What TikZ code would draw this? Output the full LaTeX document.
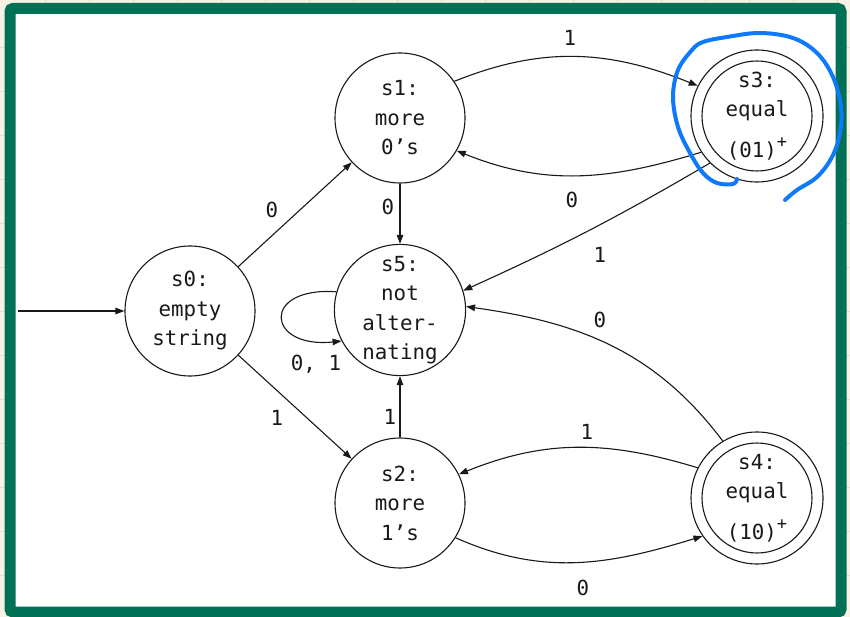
\documentclass[tikz,border=0pt]{standalone}
\usepackage{fontspec}
\setmainfont{DejaVu Sans Mono}
\usetikzlibrary{arrows.meta}
\definecolor{frame}{RGB}{0,113,84}
\definecolor{pen}{RGB}{14,122,250}
\definecolor{paper}{RGB}{246,243,230}
\definecolor{gridc}{RGB}{226,222,203}
\definecolor{ink}{RGB}{25,25,25}
\newcommand{\plussup}{\raisebox{10pt}{\fontsize{17}{17}\selectfont +}}
\begin{document}
\begin{tikzpicture}[x=1pt,y=1pt,
  state/.style={circle,draw=ink,line width=1.1pt,minimum size=130pt,inner sep=0pt,align=center,text=ink,font=\fontsize{20.8}{29.5}\selectfont},
  accept/.style={state,minimum size=132pt},
  lbl/.style={font=\fontsize{20.8}{24}\selectfont,inner sep=0pt,text=ink},
  edge/.style={draw=ink,line width=1.1pt,-{Triangle[length=9pt,width=6.5pt]}},
  inner ring/.style={draw=ink,line width=1.1pt},
  marker/.style={draw=pen,line width=4pt,line cap=round,line join=round}
]
\useasboundingbox (0,0) rectangle (850,-617);
\fill[paper] (0,0) rectangle (850,-617);
\foreach \i in {1,...,19} \draw[gridc,line width=0.8pt] ({1+44*\i},0) -- ({1+44*\i},-617);
\foreach \j in {1,...,13} \draw[gridc,line width=0.8pt] (0,{-3-44*\j}) -- (850,{-3-44*\j});
\draw[frame,line width=11pt,fill=white,rounded corners=3pt] (10,-8.5) rectangle (841,-612);

% states
\node[state] (s0) at (190,-311) {s0:\\empty\\string};
\node[state] (s1) at (400,-118) {s1:\\more\\0’s};
\node[state] (s5) at (400,-310) {s5:\\not\\alter-\\nating};
\node[state] (s2) at (400,-503) {s2:\\more\\1’s};
\node[accept] (s3) at (757,-116) {s3:\\equal\\[11pt](01)\plussup};
\node[accept] (s4) at (757,-498) {s4:\\equal\\[11pt](10)\plussup};
\draw[inner ring] (s3.center) circle (55);
\draw[inner ring] (s4.center) circle (55);

% connectors
\coordinate (init) at (18,-311);
\draw[edge] (init) -- (s0);
\draw[edge] (s0) -- (s1);
\draw[edge] (s0) -- (s2);
\draw[edge] (s1) -- (s5);
\draw[edge] (s2) -- (s5);
\draw[edge] (s1.34) to[out=22,in=158] (s3.153);
\draw[edge] (s3.213) to[out=197,in=-22] (s1.-30);
\draw[edge] (s3.225) to[bend left=3] (s5.17);
\draw[edge] (s4.121) to[out=127,in=-8] (s5.3);
\draw[edge] (s4.153) to[out=163,in=22] (s2.26);
\draw[edge] (s2.-32) to[out=-24,in=197] (s4.215);
\draw[edge] (s5.164) .. controls +(176:76) and +(186:76) .. (s5.208);

% labels
\node[lbl] (l01) at (272,-210) {0};
\node[lbl] (l02) at (277,-418) {1};
\node[lbl] (l15) at (388,-207) {0};
\node[lbl] (l25) at (390,-417) {1};
\node[lbl] (l13) at (570,-38) {1};
\node[lbl] (l31) at (572,-200) {0};
\node[lbl] (l35) at (600,-255) {1};
\node[lbl] (l45) at (600,-320) {0};
\node[lbl] (l42) at (587,-432) {1};
\node[lbl] (l24) at (583,-588) {0};
\node[lbl] (l55) at (316,-364) {0, 1};

% hand-drawn marker around s3
\draw[marker] plot[smooth,tension=0.6] coordinates {(737,-179) (733,-184) (717,-183) (703,-173) (690,-153) (678,-127) (673,-97) (678,-70) (692,-50) (703,-42) (727,-37) (760,-33) (793,-38) (817,-53) (833,-77) (841,-107) (840,-133) (832,-157) (817,-177) (797,-190) (785,-200)};
\end{tikzpicture}
\end{document}
